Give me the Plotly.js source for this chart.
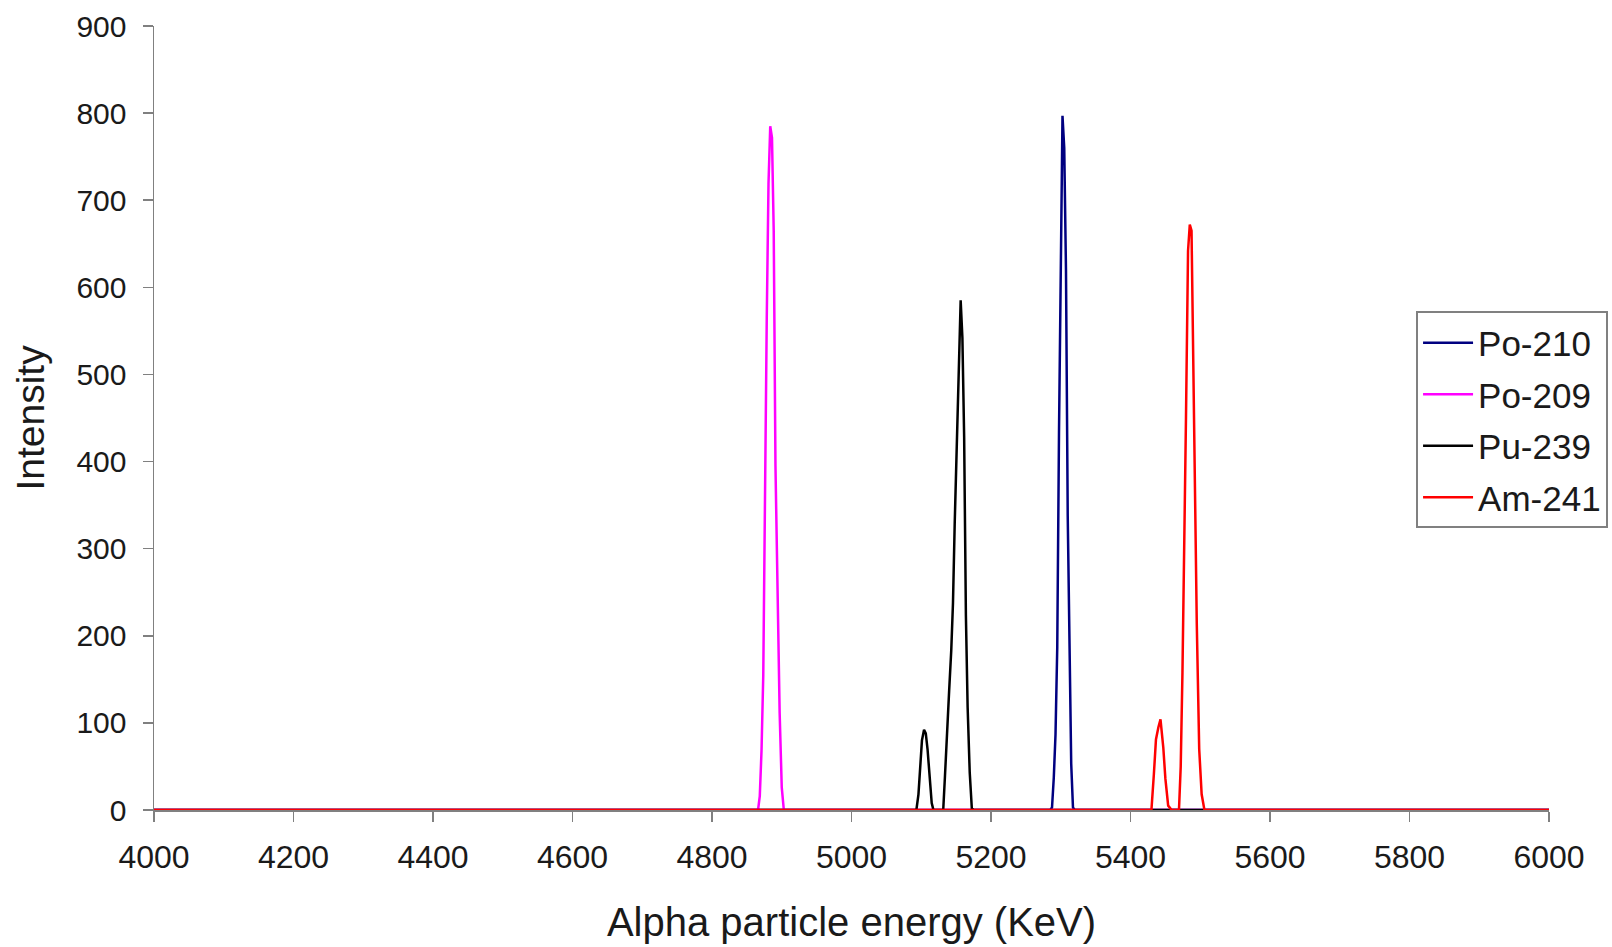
<!DOCTYPE html>
<html>
<head>
<meta charset="utf-8">
<script src="https://cdn.plot.ly/plotly-3.0.1.min.js"></script>
<style>html,body{margin:0;padding:0;background:#fff;}#chart{width:1612px;height:947px;}</style>
</head>
<body>
<div id="chart"></div>
<script>
// Po-210 spectrum
const po210_x = [4000, 5285, 5287.5, 5290, 5292.5, 5295, 5297.5, 5300, 5302.5, 5305, 5307.5, 5310, 5312.5, 5315, 5317.5, 5320, 6000];
const po210_y = [0, 0, 3, 37, 87, 187, 435, 620, 797, 760, 620, 338, 187, 53, 3, 0, 0];
// Po-209 spectrum
const po209_x = [4000, 4866, 4868.5, 4871, 4873.5, 4876, 4878.5, 4881, 4883.5, 4886, 4888.5, 4891, 4894, 4897, 4900, 4903, 6000];
const po209_y = [0, 0, 16, 68, 155, 379, 564, 719, 785, 772, 664, 395, 229, 111, 26, 0, 0];
// Pu-239 spectrum
const pu239_x = [4000, 5093, 5096, 5098.5, 5101, 5104, 5106.5, 5109, 5112, 5115, 5117.5,
                 5131.5, 5134, 5137, 5140, 5143, 5145.5, 5148, 5151, 5154, 5156.5, 5159, 5161.5, 5164, 5166.5, 5169.5, 5172.5, 5175, 6000];
const pu239_y = [0, 0, 18, 53, 80, 92, 88, 70, 39, 8, 0,
                 0, 39, 98, 137, 183, 238, 330, 430, 499, 585, 542, 428, 224, 118, 43, 2, 0, 0];
// Am-241 spectrum
const am241_x = [4000, 5430, 5433.5, 5436.5, 5440, 5443, 5447, 5450, 5454, 5459,
                 5469.5, 5472, 5474.5, 5477, 5479.5, 5482.5, 5485, 5487.5, 5489.5, 5492, 5495, 5498.5, 5502, 5506, 6000];
const am241_y = [0, 0, 41, 81, 95, 104, 72, 36, 5, 0,
                 0, 50, 158, 290, 448, 642, 672, 665, 525, 364, 215, 70, 18, 0, 0];

const seriesNames = ["Po-210", "Po-209", "Pu-239", "Am-241"];
const seriesColors = ["#000080", "#FF00FF", "#000000", "#FF0000"];
const xs = [po210_x, po209_x, pu239_x, am241_x];
const ys = [po210_y, po209_y, pu239_y, am241_y];

const FONT = "Liberation Sans, Arial, sans-serif";
const traces = seriesNames.map((n, i) => ({
  type: "scatter", mode: "lines", name: n, legendgroup: n,
  x: xs[i], y: ys[i],
  line: {color: seriesColors[i], width: 2.5}
}));

const layout = {
  width: 1612, height: 947,
  margin: {l: 154, r: 63, t: 26, b: 137, autoexpand: false},
  paper_bgcolor: "#fff", plot_bgcolor: "#fff",
  showlegend: true,
  legend: {
    x: 0.9047, y: 0.636, xanchor: "left", yanchor: "top",
    bgcolor: "#fff", bordercolor: "#808080", borderwidth: 2,
    font: {family: FONT, size: 35, color: "#1a1a1a"},
    traceorder: "grouped", tracegroupgap: 3, itemwidth: 50
  },
  xaxis: {
    range: [4000, 6000], tick0: 4000, dtick: 200,
    ticks: "outside", ticklen: 10, tickwidth: 1.5, tickcolor: "#808080",
    showline: true, linecolor: "#808080", linewidth: 1.5,
    showgrid: false, zeroline: false, layer: "below traces",
    tickfont: {family: FONT, size: 32, color: "#1a1a1a"},
    ticklabelstandoff: 8,
    title: {text: "Alpha particle energy (KeV)", font: {family: FONT, size: 40, color: "#1a1a1a"}, standoff: 34}
  },
  yaxis: {
    range: [0, 900], tick0: 0, dtick: 100,
    ticks: "outside", ticklen: 10, tickwidth: 1.5, tickcolor: "#808080",
    showline: true, linecolor: "#808080", linewidth: 1.5,
    showgrid: false, zeroline: false, layer: "below traces",
    tickfont: {family: FONT, size: 30, color: "#1a1a1a"},
    ticklabelstandoff: 10,
    title: {text: "Intensity", font: {family: FONT, size: 39, color: "#1a1a1a"}, standoff: 20}
  }
};

Plotly.newPlot("chart", traces, layout, {displayModeBar: false, staticPlot: true});
</script>
</body>
</html>
